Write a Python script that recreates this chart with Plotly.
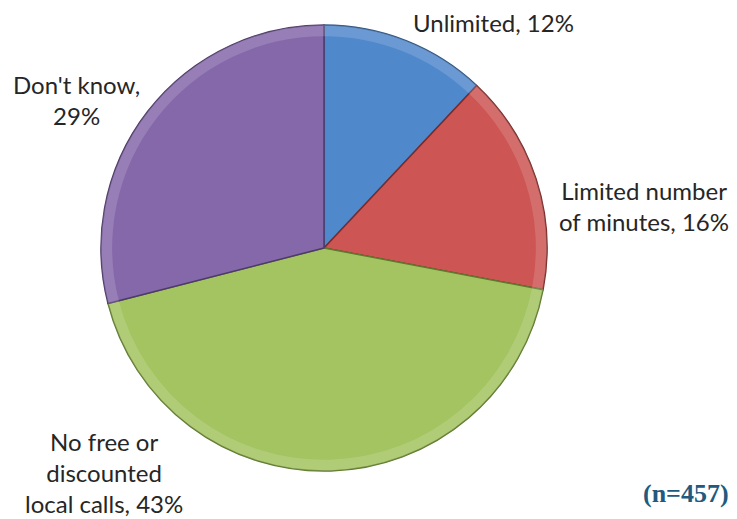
import plotly.graph_objects as go

categories = ["Unlimited", "Limited number of minutes", "No free or discounted local calls", "Don't know"]
values = [12, 16, 43, 29]
colors = ["#5088CC", "#CD5553", "#A3C460", "#8568AA"]
edge_colors = ["#2E5585", "#7A2B29", "#5E7A2C", "#4E3A6A"]
label_texts = ["Unlimited, 12%", "Limited number<br>of minutes, 16%", "No free or<br>discounted<br>local calls, 43%", "Don't know,<br>29%"]
label_pos = [(493, 22), (644, 206), (104, 472), (76, 100)]
note = "(n=457)"

# page body has an 8px margin; the figure is drawn inside it
OFF = 8
W, H = 737 - OFF, 519 - OFF
cx, cy, r = 324 - OFF, 248 - OFF, 223

dom = dict(x=[(cx - r) / W, (cx + r) / W], y=[(H - cy - r) / H, (H - cy + r) / H])

fig = go.Figure()
fig.add_trace(go.Pie(
    labels=categories, values=values, sort=False, direction="clockwise", rotation=0,
    marker=dict(colors=colors, line=dict(color=edge_colors, width=1.5)),
    textinfo="none", hoverinfo="label+percent", showlegend=False, domain=dom,
))
# soft bevel highlight on the rim
fig.add_trace(go.Pie(
    labels=categories, values=values, sort=False, direction="clockwise", rotation=0, hole=0.95,
    marker=dict(colors=["rgba(255,255,255,0.15)"] * len(values), line=dict(width=0)),
    textinfo="none", hoverinfo="skip", showlegend=False, domain=dom,
))

for txt, (px, py) in zip(label_texts, label_pos):
    fig.add_annotation(x=(px - OFF) / W, y=1 - (py - OFF) / H, xref="paper", yref="paper", text=txt,
                       showarrow=False, xanchor="center", yanchor="middle", align="center",
                       font=dict(family="Lato, Open Sans, sans-serif", size=24, color="#262626"))

fig.add_annotation(x=(731 - OFF) / W, y=1 - (493 - OFF) / H, xref="paper", yref="paper",
                   text="<b>" + note + "</b>",
                   showarrow=False, xanchor="right", yanchor="middle",
                   font=dict(family="Liberation Serif, serif", size=26, color="#215A7E"))

fig.update_layout(width=W, height=H, margin=dict(l=0, r=0, t=0, b=0),
                  paper_bgcolor="white", plot_bgcolor="white")
fig.write_html("out.html")
